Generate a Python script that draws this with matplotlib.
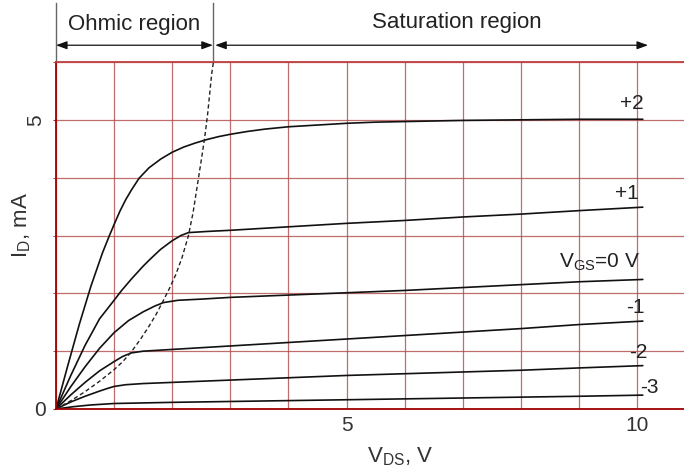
import numpy as np
import matplotlib
matplotlib.use("Agg")
import matplotlib.pyplot as plt

plt.rcParams['font.family'] = ['Liberation Sans', 'DejaVu Sans']
plt.rcParams['mathtext.default'] = 'regular'

# ---- data ----
vds_p2 = [0, 0.2, 0.4, 0.6, 0.8, 0.92, 1.0, 1.1, 1.2, 1.3, 1.43, 1.6, 1.8, 2.0, 2.2, 2.4, 2.6, 2.8,
          3.0, 3.3, 3.6, 4.0, 4.5, 5, 5.5, 6, 7, 8, 9, 10.1]
id_p2 = [0, 0.74, 1.46, 2.12, 2.7, 3.0, 3.19, 3.42, 3.62, 3.79, 3.99, 4.17, 4.32, 4.44, 4.53, 4.6,
         4.66, 4.71, 4.75, 4.8, 4.84, 4.88, 4.91, 4.94, 4.96, 4.97, 4.99, 5.0, 5.01, 5.01]

vds_p1 = [0, 0.25, 0.5, 0.75, 1.0, 1.13, 1.3, 1.5, 1.62, 1.8, 2.0, 2.15, 2.28, 2.6, 3, 4, 5, 6, 7,
          8, 9, 10.1]
id_p1 = [0, 0.57, 1.1, 1.56, 1.88, 2.05, 2.25, 2.47, 2.59, 2.76, 2.91, 3.0, 3.05, 3.07, 3.09, 3.15,
         3.21, 3.26, 3.32, 3.37, 3.43, 3.49]

vds_0 = [0, 0.25, 0.5, 0.75, 1.0, 1.25, 1.5, 1.7, 1.85, 2.1, 2.5, 3, 4, 5, 6, 7, 8, 9, 10.1]
id_0 = [0, 0.38, 0.73, 1.05, 1.32, 1.53, 1.68, 1.78, 1.84, 1.88, 1.9, 1.93, 1.97, 2.01, 2.05, 2.1,
        2.15, 2.2, 2.24]

vds_m1 = [0, 0.25, 0.5, 0.75, 1.0, 1.15, 1.3, 1.5, 2.0, 2.5, 3, 4, 5, 6, 7, 8, 9, 10.1]
id_m1 = [0, 0.24, 0.46, 0.66, 0.82, 0.91, 0.97, 1.0, 1.03, 1.06, 1.09, 1.15, 1.21, 1.27, 1.33, 1.39,
         1.46, 1.52]

vds_m2 = [0, 0.25, 0.5, 0.75, 0.9, 1.0, 1.2, 1.5, 2, 3, 4, 5, 6, 7, 8, 9, 10.1]
id_m2 = [0, 0.12, 0.22, 0.31, 0.36, 0.39, 0.42, 0.44, 0.46, 0.5, 0.54, 0.58, 0.61, 0.64, 0.67, 0.71,
         0.75]

vds_m3 = [0, 0.3, 0.6, 1.0, 1.5, 2, 3, 4, 5, 6, 7, 8, 9, 10.1]
id_m3 = [0, 0.04, 0.07, 0.095, 0.105, 0.115, 0.13, 0.145, 0.16, 0.175, 0.19, 0.205, 0.22, 0.24]

vds_boundary = [0, 0.25, 0.5, 0.75, 1.0, 1.15, 1.29, 1.45, 1.6, 1.72, 1.84, 1.95, 2.06, 2.17,
                2.28, 2.36, 2.43, 2.5, 2.56, 2.61, 2.65, 2.68, 2.71]
id_boundary = [0, 0.14, 0.3, 0.48, 0.68, 0.82, 0.98, 1.2, 1.43, 1.63, 1.86, 2.08, 2.32, 2.62,
               3.0, 3.4, 3.85, 4.3, 4.7, 5.1, 5.5, 5.8, 6.0]

curve_labels = ['+2', '+1', r'V$_{GS}$=0 V', '-1', '-2', '-3']
label_x = [9.91, 9.82, 10.05, 9.97, 10.02, 10.22]
label_y = [5.28, 3.72, 2.54, 1.75, 0.97, 0.38]
label_ha = ['center', 'center', 'right', 'center', 'center', 'center']

x_tick_pos = [5, 10]
x_tick_labels = ['5', '10']
y_tick_pos = [0, 5]
y_tick_labels = ['0', '5']

region_names = ['Ohmic region', 'Saturation region']
region_bounds = [(0.0, 2.70), (2.74, 10.19)]
region_text_x = [1.35, 6.9]
region_text_y = [6.64, 6.69]
boundary_x = 2.70

# ---- figure ----
fig = plt.figure(figsize=(6.84, 4.72), dpi=100)
ax = fig.add_axes([56 / 684, 63 / 472, 628 / 684, 347 / 472])
ax.set_xlim(0, 628 / 58.1)
ax.set_ylim(0, 6)

grid_col = '#b04a4a'
ax.set_xticks(np.arange(0, 11), minor=True)
ax.set_yticks(np.arange(0, 7), minor=True)
ax.set_xticks(x_tick_pos)
ax.set_xticklabels(x_tick_labels)
ax.set_yticks(y_tick_pos)
ax.set_yticklabels(y_tick_labels)
ax.grid(which='both', color=grid_col, lw=0.9, alpha=0.8)
ax.set_axisbelow(True)

ax.tick_params(axis='x', which='both', length=0, pad=5, labelsize=15, labelcolor='#333333')
ax.tick_params(axis='y', which='both', length=2.5, color='#b02020', pad=5, labelsize=15,
               labelcolor='#333333')
ax.yaxis.get_ticklabels()[1].set_rotation(90)
ax.yaxis.get_ticklabels()[1].set_va('center')

for s in ['left', 'bottom']:
    ax.spines[s].set_color('#a00000')
    ax.spines[s].set_linewidth(1.3)
ax.spines['top'].set_color('#c04040')
ax.spines['top'].set_linewidth(1.3)
ax.spines['right'].set_visible(False)

lw = 1.2
for xs, ys in [(vds_p2, id_p2), (vds_p1, id_p1), (vds_0, id_0),
               (vds_m1, id_m1), (vds_m2, id_m2), (vds_m3, id_m3)]:
    ax.plot(xs, ys, color='#111111', lw=lw, solid_joinstyle='round', solid_capstyle='round')
ax.plot(vds_boundary, id_boundary, color='#222222', lw=1.0, ls=(0, (3, 2)))

for t, x, y, ha in zip(curve_labels, label_x, label_y, label_ha):
    ax.text(x, y, t, ha=ha, va='center', fontsize=15, color='#222222')

# axis labels
ax.text(5.93, -0.83, r'V$_{DS}$, V', ha='center', va='center',
        fontsize=16, color='#333333', clip_on=False)
fig.text(21.7 / 684, 1 - 225 / 472, r'I$_{D}$, mA', rotation=90, ha='center', va='center',
         fontsize=16, color='#333333')

# region annotations above the plot
y_arrow = 6.29
for xx in [0.0, boundary_x]:
    ax.plot([xx, xx], [6.0, 7.02], color='#666666', lw=1.0, clip_on=False)
for (x0, x1), name, tx, ty in zip(region_bounds, region_names, region_text_x, region_text_y):
    ax.annotate('', xy=(x1, y_arrow), xytext=(x0, y_arrow),
                arrowprops=dict(arrowstyle='<|-|>,head_length=0.6,head_width=0.22',
                                color='#111111', lw=0.9,
                                mutation_scale=11, shrinkA=0, shrinkB=0),
                annotation_clip=False)
    ax.text(tx, ty, name, ha='center', va='center', fontsize=16, color='#222222',
            clip_on=False)

fig.savefig('out.png', dpi=100)
